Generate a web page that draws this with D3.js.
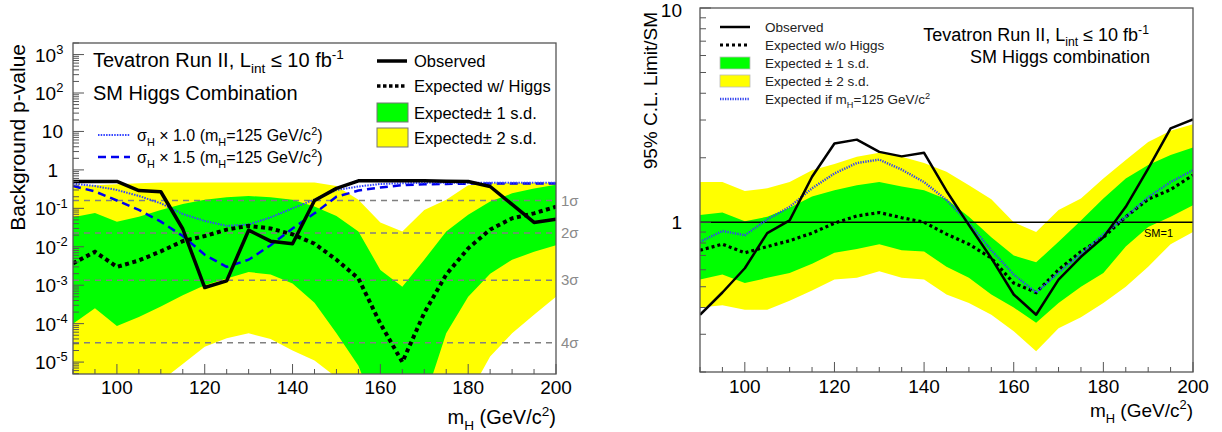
<!DOCTYPE html>
<html>
<head>
<meta charset="utf-8">
<script src="https://cdn.jsdelivr.net/npm/d3@7"></script>
<style>
body { margin: 0; background: #fff; }
svg text { font-family: "Liberation Sans", Arial, Helvetica, sans-serif; white-space: pre; }
</style>
</head>
<body>
<svg id="chart" width="1222" height="432"></svg>
<script>
// mass points (GeV/c^2)
var masses = [90,95,100,105,110,115,120,125,130,135,140,145,150,155,160,165,170,175,180,185,190,195,200];

// left panel: background p-values
var pObs   = [0.5,0.5,0.5,0.29,0.27,0.029,8.7e-4,1.3e-3,0.027,0.014,0.012,0.16,0.33,0.52,0.52,0.52,0.52,0.51,0.5,0.37,0.126,0.043,0.052];
var pExp   = [3.7e-3,7.4e-3,3.0e-3,4.4e-3,7.6e-3,0.014,0.019,0.028,0.035,0.030,0.021,0.012,4.6e-3,1.5e-3,1.0e-4,1.0e-5,1.9e-4,1.9e-3,9.1e-3,0.028,0.055,0.074,0.11];
var p1Up   = [0.059,0.076,0.045,0.060,0.091,0.13,0.166,0.195,0.209,0.195,0.166,0.112,0.063,0.025,2.5e-3,9.1e-4,4.6e-3,0.025,0.068,0.15,0.245,0.33,0.41];
var p1Dn   = [1.0e-4,2.5e-4,8.7e-5,1.5e-4,2.8e-4,5.5e-4,1.0e-3,1.5e-3,2.2e-3,1.9e-3,1.1e-3,3.5e-4,5.6e-5,8e-6,3e-7,1e-7,1e-6,5.6e-5,5e-4,2e-3,4.6e-3,7.4e-3,0.011];
var p2Up   = [0.38,0.40,0.42,0.45,0.47,0.47,0.47,0.47,0.47,0.47,0.47,0.47,0.38,0.166,0.043,0.025,0.091,0.166,0.40,0.45,0.46,0.46,0.46];
var p2Dn   = [1e-6,1.6e-6,1e-6,1.6e-6,3.2e-6,8.9e-6,2.5e-5,4.2e-5,5.6e-5,4e-5,2e-5,1.1e-5,4e-6,1e-7,3e-8,1e-8,3e-8,1e-7,1.3e-6,1.4e-5,5.6e-5,1.7e-4,5e-4];
var pSig10 = [0.44,0.38,0.30,0.21,0.135,0.071,0.047,0.035,0.038,0.058,0.1,0.17,0.30,0.37,0.43,0.45,0.46,0.46,0.46,0.46,0.46,0.46,0.46];
var pSig15 = [0.38,0.275,0.16,0.091,0.045,0.019,6.2e-3,3.0e-3,4.6e-3,0.011,0.030,0.074,0.20,0.29,0.35,0.40,0.42,0.43,0.44,0.44,0.44,0.44,0.44];
var sigmaP     = [0.1587, 0.02275, 0.00135, 3.167e-5];
var sigmaNames = ["1\u03c3", "2\u03c3", "3\u03c3", "4\u03c3"];

// right panel: 95% CL limit / SM
var rObs    = [0.37,0.47,0.61,0.89,1.02,1.63,2.33,2.43,2.13,2.03,2.11,1.4,0.97,0.68,0.46,0.37,0.54,0.69,0.85,1.18,1.78,2.74,3.02];
var rExp    = [0.74,0.79,0.72,0.77,0.82,0.89,0.99,1.07,1.11,1.05,1.0,0.88,0.79,0.68,0.52,0.47,0.60,0.73,0.85,1.06,1.28,1.42,1.66];
var rExp125 = [0.81,0.91,0.87,1.03,1.18,1.44,1.69,1.89,1.96,1.76,1.54,1.27,0.99,0.74,0.57,0.47,0.58,0.71,0.88,1.06,1.31,1.54,1.75];
var r1Up    = [1.08,1.11,1.01,1.06,1.17,1.32,1.41,1.49,1.54,1.47,1.41,1.28,1.06,0.85,0.70,0.65,0.81,1.02,1.29,1.6,1.85,2.06,2.23];
var r1Dn    = [0.54,0.57,0.52,0.55,0.58,0.64,0.72,0.75,0.79,0.74,0.73,0.62,0.55,0.46,0.40,0.34,0.42,0.50,0.58,0.77,0.95,1.06,1.2];
var r2Up    = [1.54,1.54,1.40,1.44,1.54,1.75,1.87,2.02,2.11,2.02,1.89,1.72,1.49,1.28,1.0,0.90,1.14,1.29,1.6,1.95,2.37,2.67,2.87];
var r2Dn    = [0.40,0.41,0.39,0.39,0.43,0.48,0.54,0.55,0.59,0.55,0.54,0.46,0.42,0.37,0.31,0.25,0.32,0.36,0.42,0.50,0.62,0.79,0.90];

var GREEN = "#00ff00", YELLOW = "#ffff00";
var svg = d3.select("#chart");

// text with sub/superscripts: parts = [[text, "n"|"sub"|"sup"], ...]
function rich(g, x, y, parts, size, anchor) {
  var t = g.append("text").attr("x", x).attr("y", y)
      .attr("font-size", size).attr("text-anchor", anchor || "start");
  var shift = 0;
  parts.forEach(function(p) {
    var s = p[1] == "sub" ? size * 0.3 : (p[1] == "sup" ? -size * 0.4 : 0);
    t.append("tspan").attr("dy", s - shift)
      .attr("font-size", p[1] == "n" ? size : size * 0.68).text(p[0]);
    shift = s;
  });
  return t;
}

function zipped(ys) { return masses.map(function(m, i) { return [m, ys[i]]; }); }
function bandData(lo, hi) { return masses.map(function(m, i) { return [m, lo[i], hi[i]]; }); }

function drawFrame(g, x, y, fr) {
  var isMajorY = function(v) { var l = Math.log10(v); return Math.abs(l - Math.round(l)) < 1e-6; };
  // x ticks, inside, pointing up
  g.selectAll(".xt").data(x.ticks(22)).enter().append("line")
    .attr("x1", function(d) { return x(d); }).attr("x2", function(d) { return x(d); })
    .attr("y1", fr.y1).attr("y2", function(d) { return fr.y1 - (d % 20 == 0 ? 10 : 5); })
    .attr("stroke", "#555").attr("stroke-width", 1);
  // y ticks, inside, pointing right
  g.selectAll(".yt").data(y.ticks(20).filter(function(v) { return y(v) >= fr.y0 - 0.5 && y(v) <= fr.y1 + 0.5; }))
    .enter().append("line")
    .attr("x1", fr.x0).attr("x2", function(d) { return fr.x0 + (isMajorY(d) ? 11 : 6); })
    .attr("y1", function(d) { return y(d); }).attr("y2", function(d) { return y(d); })
    .attr("stroke", "#555").attr("stroke-width", 1);
  g.append("rect").attr("x", fr.x0).attr("y", fr.y0)
    .attr("width", fr.x1 - fr.x0).attr("height", fr.y1 - fr.y0)
    .attr("fill", "none").attr("stroke", "#555").attr("stroke-width", 1.3);
}

// ---------------- left panel ----------------
var fL = {x0: 73, x1: 556, y0: 43, y1: 374};
var xL = d3.scaleLinear().domain([90, 200]).range([fL.x0, fL.x1]);
var yL = d3.scaleLog().domain([4.9e-6, 2000]).range([fL.y1, fL.y0]);
var gL = svg.append("g");
svg.append("clipPath").attr("id", "clipL").append("rect")
  .attr("x", fL.x0).attr("y", fL.y0).attr("width", fL.x1 - fL.x0).attr("height", fL.y1 - fL.y0);
var pl = gL.append("g").attr("clip-path", "url(#clipL)");

var areaL = d3.area().x(function(d) { return xL(d[0]); })
  .y0(function(d) { return yL(d[1]); }).y1(function(d) { return yL(d[2]); });
var lineL = d3.line().x(function(d) { return xL(d[0]); }).y(function(d) { return yL(d[1]); });

pl.append("path").attr("d", areaL(bandData(p2Dn, p2Up))).attr("fill", YELLOW);
pl.append("path").attr("d", areaL(bandData(p1Dn, p1Up))).attr("fill", GREEN);

sigmaP.forEach(function(p, i) {
  pl.append("line").attr("x1", fL.x0).attr("x2", fL.x1).attr("y1", yL(p)).attr("y2", yL(p))
    .attr("stroke", "#808080").attr("stroke-width", 1.5).attr("stroke-dasharray", "6,5");
  gL.append("text").attr("x", fL.x1 + 5).attr("y", yL(p) + 5).attr("font-size", 15)
    .attr("fill", "#8a8a8a").text(sigmaNames[i]);
});

pl.append("path").attr("d", lineL(zipped(pSig15))).attr("fill", "none")
  .attr("stroke", "#0000ee").attr("stroke-width", 2.5).attr("stroke-dasharray", "8,5");
pl.append("path").attr("d", lineL(zipped(pSig10))).attr("fill", "none")
  .attr("stroke", "#3344ff").attr("stroke-width", 2).attr("stroke-dasharray", "1.5,1.2");
pl.append("path").attr("d", lineL(zipped(pExp))).attr("fill", "none")
  .attr("stroke", "#000").attr("stroke-width", 4).attr("stroke-dasharray", "4,3.5");
pl.append("path").attr("d", lineL(zipped(pObs))).attr("fill", "none")
  .attr("stroke", "#000").attr("stroke-width", 3.5).attr("stroke-linejoin", "round");

drawFrame(gL, xL, yL, fL);

// axis labels
xL.ticks(6).forEach(function(v) {
  if (v % 20 != 0) return;
  gL.append("text").attr("x", xL(v)).attr("y", 394).attr("font-size", 19)
    .attr("text-anchor", "middle").text(v);
});
[1e-5, 1e-4, 1e-3, 1e-2, 1e-1, 1, 10, 100, 1000].forEach(function(v) {
  var e = Math.round(Math.log10(v)), yy = yL(v) + 7;
  if (e == 0) gL.append("text").attr("x", 58).attr("y", yy).attr("font-size", 19).attr("text-anchor", "end").text("1");
  else if (e == 1) gL.append("text").attr("x", 63).attr("y", yy).attr("font-size", 19).attr("text-anchor", "end").text("10");
  else rich(gL, 35, yy, [["10", "n"], [e < 0 ? "-" + (-e) : "" + e, "sup"]], 19);
});
rich(gL, fL.x1, 424, [["m", "n"], ["H", "sub"], [" (GeV/c", "n"], ["2", "sup"], [")", "n"]], 20, "end");
gL.append("text").attr("transform", "translate(25,44) rotate(-90)").attr("font-size", 21)
  .attr("text-anchor", "end").text("Background p-value");

// texts and legends
rich(gL, 93, 67, [["Tevatron Run II, L", "n"], ["int", "sub"], [" \u2264 10 fb", "n"], ["-1", "sup"]], 20);
gL.append("text").attr("x", 93).attr("y", 100).attr("font-size", 20).text("SM Higgs Combination");

gL.append("line").attr("x1", 98).attr("x2", 130).attr("y1", 135).attr("y2", 135)
  .attr("stroke", "#3344ff").attr("stroke-width", 2).attr("stroke-dasharray", "1.5,1.2");
gL.append("line").attr("x1", 98).attr("x2", 130).attr("y1", 157).attr("y2", 157)
  .attr("stroke", "#0000ee").attr("stroke-width", 2.5).attr("stroke-dasharray", "8,5");
rich(gL, 137, 141, [["\u03c3", "n"], ["H", "sub"], [" \u00d7 1.0 (m", "n"], ["H", "sub"], ["=125 GeV/c", "n"], ["2", "sup"], [")", "n"]], 16);
rich(gL, 137, 163, [["\u03c3", "n"], ["H", "sub"], [" \u00d7 1.5 (m", "n"], ["H", "sub"], ["=125 GeV/c", "n"], ["2", "sup"], [")", "n"]], 16);

var legL = [
  {name: "Observed", kind: "solid"},
  {name: "Expected w/ Higgs", kind: "dot"},
  {name: "Expected\u00b1 1 s.d.", kind: "box", color: GREEN},
  {name: "Expected\u00b1 2 s.d.", kind: "box", color: YELLOW}
];
var legRowsL = [61, 86, 113, 138];
legL.forEach(function(d, i) {
  var yy = legRowsL[i];
  if (d.kind == "solid") gL.append("line").attr("x1", 377).attr("x2", 407).attr("y1", yy).attr("y2", yy)
    .attr("stroke", "#000").attr("stroke-width", 3.5);
  if (d.kind == "dot") gL.append("line").attr("x1", 377).attr("x2", 407).attr("y1", yy).attr("y2", yy)
    .attr("stroke", "#000").attr("stroke-width", 3.5).attr("stroke-dasharray", "3.5,2.5");
  if (d.kind == "box") gL.append("rect").attr("x", 377).attr("y", yy - 10).attr("width", 31).attr("height", 19)
    .attr("fill", d.color).attr("stroke", "#777").attr("stroke-width", 1);
  gL.append("text").attr("x", 414).attr("y", yy + 6).attr("font-size", 16.5).text(d.name);
});

// ---------------- right panel ----------------
var fR = {x0: 700, x1: 1193, y0: 8, y1: 372};
var xR = d3.scaleLinear().domain([90, 200]).range([fR.x0, fR.x1]);
var yR = d3.scaleLog().domain([0.2, 10]).range([fR.y1, fR.y0]);
var gR = svg.append("g");
svg.append("clipPath").attr("id", "clipR").append("rect")
  .attr("x", fR.x0).attr("y", fR.y0).attr("width", fR.x1 - fR.x0).attr("height", fR.y1 - fR.y0);
var pr = gR.append("g").attr("clip-path", "url(#clipR)");

var areaR = d3.area().x(function(d) { return xR(d[0]); })
  .y0(function(d) { return yR(d[1]); }).y1(function(d) { return yR(d[2]); });
var lineR = d3.line().x(function(d) { return xR(d[0]); }).y(function(d) { return yR(d[1]); });

pr.append("path").attr("d", areaR(bandData(r2Dn, r2Up))).attr("fill", YELLOW);
pr.append("path").attr("d", areaR(bandData(r1Dn, r1Up))).attr("fill", GREEN);
pr.append("line").attr("x1", fR.x0).attr("x2", fR.x1).attr("y1", yR(1)).attr("y2", yR(1))
  .attr("stroke", "#000").attr("stroke-width", 1.5);
pr.append("path").attr("d", lineR(zipped(rExp))).attr("fill", "none")
  .attr("stroke", "#000").attr("stroke-width", 3.2).attr("stroke-dasharray", "3,3");
pr.append("path").attr("d", lineR(zipped(rExp125))).attr("fill", "none")
  .attr("stroke", "#3344ee").attr("stroke-width", 2.4).attr("stroke-dasharray", "1.3,1.2");
pr.append("path").attr("d", lineR(zipped(rObs))).attr("fill", "none")
  .attr("stroke", "#000").attr("stroke-width", 2.5).attr("stroke-linejoin", "round");

drawFrame(gR, xR, yR, fR);

xR.ticks(6).forEach(function(v) {
  if (v % 20 != 0) return;
  gR.append("text").attr("x", xR(v)).attr("y", 393).attr("font-size", 19)
    .attr("text-anchor", "middle").text(v);
});
[1, 10].forEach(function(v) {
  gR.append("text").attr("x", 682).attr("y", Math.max(yR(v) + 7, 17)).attr("font-size", 19)
    .attr("text-anchor", "end").text(v);
});
rich(gR, fR.x1, 417, [["m", "n"], ["H", "sub"], [" (GeV/c", "n"], ["2", "sup"], [")", "n"]], 19, "end");
gR.append("text").attr("transform", "translate(657,12) rotate(-90)").attr("font-size", 19)
  .attr("text-anchor", "end").text("95% C.L. Limit/SM");
gR.append("text").attr("x", 1144).attr("y", 237).attr("font-size", 11).text("SM=1");

rich(gR, 1149, 41, [["Tevatron Run II, L", "n"], ["int", "sub"], [" \u2264 10 fb", "n"], ["-1", "sup"]], 18, "end");
gR.append("text").attr("x", 1150).attr("y", 63).attr("font-size", 18).attr("text-anchor", "end")
  .text("SM Higgs combination");

var legR = [
  {name: [["Observed", "n"]], kind: "solid"},
  {name: [["Expected w/o Higgs", "n"]], kind: "dot"},
  {name: [["Expected \u00b1 1 s.d.", "n"]], kind: "box", color: GREEN},
  {name: [["Expected \u00b1 2 s.d.", "n"]], kind: "box", color: YELLOW},
  {name: [["Expected if m", "n"], ["H", "sub"], ["=125 GeV/c", "n"], ["2", "sup"]], kind: "blue"}
];
var legRowsR = [27, 45, 63, 81, 99];
legR.forEach(function(d, i) {
  var yy = legRowsR[i];
  if (d.kind == "solid") gR.append("line").attr("x1", 720).attr("x2", 750).attr("y1", yy).attr("y2", yy)
    .attr("stroke", "#000").attr("stroke-width", 2.5);
  if (d.kind == "dot") gR.append("line").attr("x1", 720).attr("x2", 750).attr("y1", yy).attr("y2", yy)
    .attr("stroke", "#000").attr("stroke-width", 3).attr("stroke-dasharray", "3,3");
  if (d.kind == "blue") gR.append("line").attr("x1", 720).attr("x2", 750).attr("y1", yy).attr("y2", yy)
    .attr("stroke", "#3344ee").attr("stroke-width", 2.4).attr("stroke-dasharray", "1.3,1.2");
  if (d.kind == "box") gR.append("rect").attr("x", 720).attr("y", yy - 6).attr("width", 30).attr("height", 12)
    .attr("fill", d.color).attr("stroke", "#bbb").attr("stroke-width", 0.8);
  rich(gR, 765, yy + 5, d.name, 13.5).attr("fill", "#222");
});
</script>
</body>
</html>
